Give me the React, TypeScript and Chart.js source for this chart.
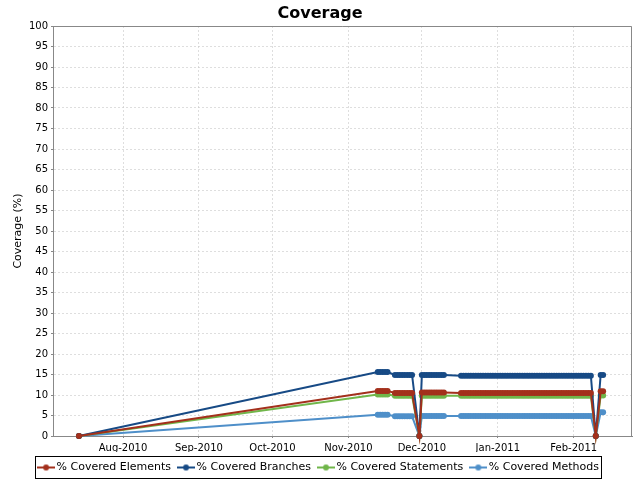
import React, { useEffect, useRef } from 'react';
import { Chart, registerables } from 'chart.js';

Chart.register(...registerables);

// Build dates (one entry per recorded build)
const dates = [
  '2010-07-14',
  // Nov 13 - 17
  '2010-11-13', '2010-11-14', '2010-11-15', '2010-11-16', '2010-11-17',
  // Nov 20 - 27
  '2010-11-20', '2010-11-21', '2010-11-22', '2010-11-23', '2010-11-24', '2010-11-25', '2010-11-26', '2010-11-27',
  // dip
  '2010-11-30',
  // Dec 1 - 10
  '2010-12-01', '2010-12-02', '2010-12-03', '2010-12-04', '2010-12-05',
  '2010-12-06', '2010-12-07', '2010-12-08', '2010-12-09', '2010-12-10',
  // Dec 17 - 31 (15)
  '2010-12-17', '2010-12-18', '2010-12-19', '2010-12-20', '2010-12-21',
  '2010-12-22', '2010-12-23', '2010-12-24', '2010-12-25', '2010-12-26',
  '2010-12-27', '2010-12-28', '2010-12-29', '2010-12-30', '2010-12-31',
  // Jan 1 - 31 (31)
  '2011-01-01', '2011-01-02', '2011-01-03', '2011-01-04', '2011-01-05',
  '2011-01-06', '2011-01-07', '2011-01-08', '2011-01-09', '2011-01-10',
  '2011-01-11', '2011-01-12', '2011-01-13', '2011-01-14', '2011-01-15',
  '2011-01-16', '2011-01-17', '2011-01-18', '2011-01-19', '2011-01-20',
  '2011-01-21', '2011-01-22', '2011-01-23', '2011-01-24', '2011-01-25',
  '2011-01-26', '2011-01-27', '2011-01-28', '2011-01-29', '2011-01-30',
  '2011-01-31',
  // Feb 1 - 8 (8)
  '2011-02-01', '2011-02-02', '2011-02-03', '2011-02-04', '2011-02-05',
  '2011-02-06', '2011-02-07', '2011-02-08',
  // dip
  '2011-02-10',
  // Feb 12 - 13
  '2011-02-12', '2011-02-13',
];

const elements = [
  0,
  11.0, 11.0, 11.0, 11.0, 11.0,
  10.5, 10.5, 10.5, 10.5, 10.5, 10.5, 10.5, 10.5,
  0,
  10.6, 10.6, 10.6, 10.6, 10.6, 10.6, 10.6, 10.6, 10.6, 10.6,
  10.5, 10.5, 10.5, 10.5, 10.5, 10.5, 10.5, 10.5, 10.5, 10.5, 10.5, 10.5, 10.5, 10.5, 10.5,
  10.5, 10.5, 10.5, 10.5, 10.5, 10.5, 10.5, 10.5, 10.5, 10.5,
  10.5, 10.5, 10.5, 10.5, 10.5, 10.5, 10.5, 10.5, 10.5, 10.5,
  10.5, 10.5, 10.5, 10.5, 10.5, 10.5, 10.5, 10.5, 10.5, 10.5,
  10.5,
  10.5, 10.5, 10.5, 10.5, 10.5, 10.5, 10.5, 10.5,
  0,
  10.9, 10.9,
];

const branches = [
  0,
  15.6, 15.6, 15.6, 15.6, 15.6,
  14.9, 14.9, 14.9, 14.9, 14.9, 14.9, 14.9, 14.9,
  0,
  14.9, 14.9, 14.9, 14.9, 14.9, 14.9, 14.9, 14.9, 14.9, 14.9,
  14.7, 14.7, 14.7, 14.7, 14.7, 14.7, 14.7, 14.7, 14.7, 14.7, 14.7, 14.7, 14.7, 14.7, 14.7,
  14.7, 14.7, 14.7, 14.7, 14.7, 14.7, 14.7, 14.7, 14.7, 14.7,
  14.7, 14.7, 14.7, 14.7, 14.7, 14.7, 14.7, 14.7, 14.7, 14.7,
  14.7, 14.7, 14.7, 14.7, 14.7, 14.7, 14.7, 14.7, 14.7, 14.7,
  14.7,
  14.7, 14.7, 14.7, 14.7, 14.7, 14.7, 14.7, 14.7,
  0,
  14.9, 14.9,
];

const statements = [
  0,
  10.1, 10.1, 10.1, 10.1, 10.1,
  9.8, 9.8, 9.8, 9.8, 9.8, 9.8, 9.8, 9.8,
  0,
  9.8, 9.8, 9.8, 9.8, 9.8, 9.8, 9.8, 9.8, 9.8, 9.8,
  9.8, 9.8, 9.8, 9.8, 9.8, 9.8, 9.8, 9.8, 9.8, 9.8, 9.8, 9.8, 9.8, 9.8, 9.8,
  9.8, 9.8, 9.8, 9.8, 9.8, 9.8, 9.8, 9.8, 9.8, 9.8,
  9.8, 9.8, 9.8, 9.8, 9.8, 9.8, 9.8, 9.8, 9.8, 9.8,
  9.8, 9.8, 9.8, 9.8, 9.8, 9.8, 9.8, 9.8, 9.8, 9.8,
  9.8,
  9.8, 9.8, 9.8, 9.8, 9.8, 9.8, 9.8, 9.8,
  0,
  9.9, 9.9,
];

const methods = [
  0,
  5.2, 5.2, 5.2, 5.2, 5.2,
  4.8, 4.8, 4.8, 4.8, 4.8, 4.8, 4.8, 4.8,
  0,
  4.9, 4.9, 4.9, 4.9, 4.9, 4.9, 4.9, 4.9, 4.9, 4.9,
  4.9, 4.9, 4.9, 4.9, 4.9, 4.9, 4.9, 4.9, 4.9, 4.9, 4.9, 4.9, 4.9, 4.9, 4.9,
  4.9, 4.9, 4.9, 4.9, 4.9, 4.9, 4.9, 4.9, 4.9, 4.9,
  4.9, 4.9, 4.9, 4.9, 4.9, 4.9, 4.9, 4.9, 4.9, 4.9,
  4.9, 4.9, 4.9, 4.9, 4.9, 4.9, 4.9, 4.9, 4.9, 4.9,
  4.9,
  4.9, 4.9, 4.9, 4.9, 4.9, 4.9, 4.9, 4.9,
  0,
  5.8, 5.8,
];

const monthStarts = ['2010-08-01', '2010-09-01', '2010-10-01', '2010-11-01', '2010-12-01', '2011-01-01', '2011-02-01'];
const monthLabels = ['Aug-2010', 'Sep-2010', 'Oct-2010', 'Nov-2010', 'Dec-2010', 'Jan-2011', 'Feb-2011'];

const seriesNames = ['% Covered Elements', '% Covered Branches', '% Covered Statements', '% Covered Methods'];
const seriesColors = ['#A3301C', '#174A85', '#70B64A', '#4E8FC9'];

const X_MIN = '2010-07-03T10:00:00Z';
const X_MAX = '2011-02-24T19:00:00Z';

const FONT = 'DejaVu Sans';

function toTime(d: string): number {
  return Date.parse(d.length === 10 ? d + 'T00:00:00Z' : d);
}

function makeMarker(color: string): HTMLCanvasElement {
  const c = document.createElement('canvas');
  c.width = 18;
  c.height = 8;
  const g = c.getContext('2d')!;
  g.strokeStyle = color;
  g.lineWidth = 2;
  g.beginPath();
  g.moveTo(0, 4);
  g.lineTo(18, 4);
  g.stroke();
  g.fillStyle = color;
  g.beginPath();
  g.arc(9, 4, 3, 0, Math.PI * 2);
  g.fill();
  return c;
}

const framePlugin = {
  id: 'frame',
  beforeDatasetsDraw(chart: any) {
    const { ctx, chartArea: a } = chart;
    ctx.save();
    ctx.strokeStyle = '#888888';
    ctx.lineWidth = 1;
    ctx.setLineDash([]);
    const t = Math.round(a.top) + 0.5;
    const r = Math.round(a.right) - 0.5;
    ctx.beginPath();
    ctx.moveTo(a.left, t);
    ctx.lineTo(r, t);
    ctx.lineTo(r, a.bottom);
    ctx.stroke();
    ctx.restore();
  },
  afterDraw(chart: any) {
    const { ctx } = chart;
    const lg = chart.legend;
    const hb = lg && lg.legendHitBoxes;
    if (!hb || !hb.length) return;
    const last = hb[hb.length - 1];
    const l = Math.round(hb[0].left - 6) + 0.5;
    const r = Math.round(last.left + last.width + 2) + 0.5;
    const t = Math.round(lg.top + 4) + 0.5;
    const b = Math.round(lg.top + 26) + 0.5;
    ctx.save();
    ctx.strokeStyle = '#000000';
    ctx.lineWidth = 1;
    ctx.setLineDash([]);
    ctx.strokeRect(l, t, r - l, b - t);
    ctx.restore();
  },
};

export default function App() {
  const ref = useRef<HTMLCanvasElement | null>(null);

  useEffect(() => {
    if (!ref.current) return;
    const seriesValues = [elements, branches, statements, methods];
    const markers = seriesColors.map(makeMarker);
    const gridOpts = {
      color: 'rgba(200,200,200,0.6)',
      lineWidth: 1,
      tickLength: 2,
      tickColor: '#888888',
      tickBorderDash: [],
    };
    const chart = new Chart(ref.current, {
      type: 'line',
      data: {
        datasets: seriesNames.map((name, i) => ({
          label: name,
          data: dates.map((d, j) => ({ x: toTime(d), y: seriesValues[i][j] })),
          borderColor: seriesColors[i],
          backgroundColor: seriesColors[i],
          borderWidth: 2,
          pointRadius: 3,
          pointBorderWidth: 0,
          pointHoverRadius: 3,
          tension: 0,
          fill: false,
          clip: false,
          yAxisID: 'y',
        })),
      },
      options: {
        animation: false,
        responsive: false,
        events: [],
        layout: { padding: 0 },
        font: { family: FONT },
        color: '#000',
        scales: {
          x: {
            type: 'linear',
            min: toTime(X_MIN),
            max: toTime(X_MAX),
            afterBuildTicks: (scale: any) => {
              scale.ticks = monthStarts.map((d) => ({ value: toTime(d) }));
            },
            afterFit: (scale: any) => {
              scale.height = 16;
            },
            ticks: {
              autoSkip: false,
              maxRotation: 0,
              padding: 4,
              color: '#000',
              font: { family: FONT, size: 10 },
              callback: (_v: any, i: number) => monthLabels[i],
            },
            grid: gridOpts,
            border: { display: true, color: '#888888', width: 1, dash: [2, 2] },
          },
          y: {
            type: 'linear',
            position: 'left',
            min: 0,
            max: 100,
            afterFit: (scale: any) => {
              scale.width = 53;
            },
            ticks: {
              stepSize: 5,
              padding: 3,
              color: '#000',
              font: { family: FONT, size: 10 },
            },
            grid: gridOpts,
            border: { display: true, color: '#888888', width: 1, dash: [2, 2] },
            title: {
              display: true,
              text: 'Coverage (%)',
              color: '#000',
              font: { family: FONT, size: 11 },
              padding: { top: 11.4, bottom: 0 },
            },
          },
          y2: {
            type: 'linear',
            position: 'right',
            display: true,
            afterFit: (scale: any) => {
              scale.width = 8;
            },
            ticks: { display: false },
            grid: { display: false, drawTicks: false },
            border: { display: false },
          },
        },
        plugins: {
          title: {
            display: true,
            text: 'Coverage',
            color: '#000',
            font: { family: FONT, size: 16, weight: 'bold' },
            padding: { top: 3.9, bottom: 2.9 },
          },
          legend: {
            display: true,
            position: 'bottom',
            maxHeight: 28,
            labels: {
              usePointStyle: true,
              pointStyleWidth: 10,
              padding: 10,
              color: '#000',
              font: { family: FONT, size: 11 },
              generateLabels: (c: any) => {
                const base = (Chart.defaults as any).plugins.legend.labels.generateLabels(c);
                return base.map((item: any, i: number) => ({ ...item, pointStyle: markers[i] }));
              },
            },
          },
          tooltip: { enabled: false },
        },
      },
      plugins: [framePlugin],
    } as any);
    return () => chart.destroy();
  }, []);

  return (
    <div style={{ position: 'fixed', left: 0, top: 0, width: 640, height: 480, background: '#fff' }}>
      <canvas ref={ref} width={640} height={480} style={{ display: 'block' }} />
    </div>
  );
}
